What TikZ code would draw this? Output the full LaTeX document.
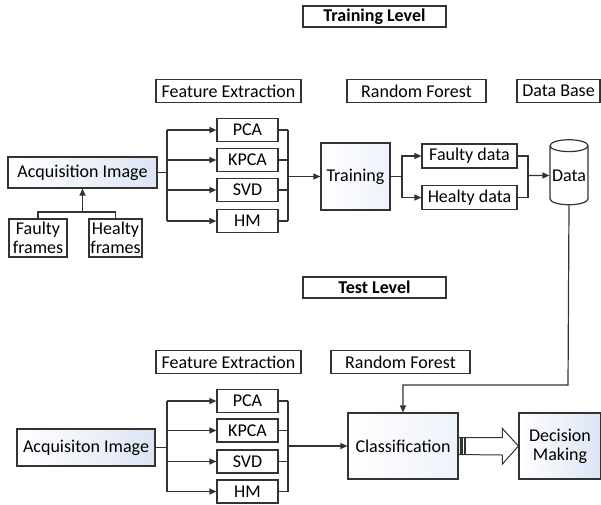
\documentclass[tikz,border=0pt]{standalone}
\usepackage{fontspec}
\setmainfont{Carlito}
\usepackage{tikz}
\usetikzlibrary{positioning}
\usetikzlibrary{arrows.meta}
\usetikzlibrary{calc}
\usetikzlibrary{shapes.geometric}
\definecolor{acqblue}{HTML}{DCE4F4}
\definecolor{paleblue}{HTML}{EEF2FA}
\definecolor{edge}{HTML}{333333}

\begin{document}
\begin{tikzpicture}[x=1pt, y=-1pt,
    every node/.style={font=\fontsize{18}{19}\selectfont, inner sep=0pt},
    box/.style={draw=edge, line width=1.2pt, align=center},
    titlebox/.style={box, minimum width=143, minimum height=21, font=\fontsize{18}{19}\selectfont\bfseries},
    headbox/.style={box, minimum height=23},
    featbox/.style={box, minimum width=61, minimum height=23},
    acqbox/.style={box, left color=white, right color=acqblue},
    procbox/.style={box, left color=white, right color=paleblue},
    link/.style={draw=edge, line width=1.2pt},
    arr/.style={link, -{Triangle[length=7pt,width=6pt]}}]
    \useasboundingbox (0,0) rectangle (601,504);

    \node[titlebox] (trlevel) at (374.5,16.5) {Training Level};
    \node[titlebox] (tslevel) at (374.5,287.5) {Test Level};

    % training level
    \node[headbox, minimum width=145] (fehead1) at (228.5,91) {Feature Extraction};
    \node[headbox, minimum width=139] (rfhead1) at (416.5,91) {Random Forest};
    \node[headbox, minimum width=83] (dbhead) at (558.5,91) {Data Base};

    \node[acqbox, minimum width=149, minimum height=31] (acq1) at (82.5,172.5) {Acquisition Image};
    \node[box, minimum width=58, minimum height=38] (faulty) at (38,238) {Faulty\\frames};
    \node[box, minimum width=53, minimum height=38] (healty) at (115.5,238) {Healty\\frames};

    \node[featbox] (pca1) at (247.5,130) {PCA};
    \node[featbox] (kpca1) at (247.5,160) {KPCA};
    \node[featbox] (svd1) at (247.5,190) {SVD};
    \node[featbox] (hm1) at (247.5,221) {HM};

    \node[procbox, minimum width=69, minimum height=67] (training) at (355.5,176.5) {Training};
    \node[box, minimum width=95, minimum height=24] (fdata) at (469.5,156) {Faulty data};
    \node[box, minimum width=95, minimum height=24] (hdata) at (469.5,197.5) {Healty data};
    \node[cylinder, shape border rotate=90, draw=edge, line width=1.2pt, aspect=0.35,
          minimum width=38, minimum height=65] (data) at (569,175.5) {Data};

    % test level
    \node[headbox, minimum width=145] (fehead2) at (228.5,362) {Feature Extraction};
    \node[headbox, minimum width=139] (rfhead2) at (400.5,362) {Random Forest};

    \node[acqbox, minimum width=138, minimum height=37] (acq2) at (86,447.5) {Acquisiton Image};

    \node[featbox] (pca2) at (247.5,401) {PCA};
    \node[featbox] (kpca2) at (247.5,430.5) {KPCA};
    \node[featbox] (svd2) at (247.5,461.5) {SVD};
    \node[featbox] (hm2) at (247.5,491.5) {HM};

    \node[procbox, minimum width=110, minimum height=66] (classif) at (403,446) {Classification};
    \node[acqbox, minimum width=82, minimum height=66] (decision) at (560,446) {Decision\\Making};

    % connectors, training level
    \coordinate (join) at (82.5,212);
    \draw[link] (faulty.north) |- (join) -| (healty.north);
    \draw[arr] (join) -- (acq1.south);

    \coordinate (fork1) at (167,172.5);
    \draw[link] (acq1.east) -- (fork1);
    \draw[link] (fork1 |- pca1) -- (fork1 |- hm1);
    \foreach \b in {pca1,kpca1,svd1,hm1}
        \draw[arr] (fork1 |- \b) -- (\b.west);

    \coordinate (merge1) at (288,176.5);
    \foreach \b in {pca1,kpca1,svd1,hm1}
        \draw[link] (\b.east) -- (\b.east -| merge1);
    \draw[link] (merge1 |- pca1) -- (merge1 |- hm1);
    \draw[arr] (merge1) -- (training.west);

    \coordinate (fork2) at (402,176.5);
    \draw[link] (training.east) -- (fork2);
    \draw[arr] (fork2) |- (fdata.west);
    \draw[arr] (fork2) |- (hdata.west);

    \coordinate (merge2) at (528,175.5);
    \draw[link] (fdata.east) -| (merge2);
    \draw[link] (hdata.east) -| (merge2);
    \draw[arr] (merge2) -- (data.west);

    \coordinate (bend) at (568,385);
    \draw[arr] (data.south) -- (bend) -| (classif.north);

    % connectors, test level
    \coordinate (fork3) at (167,447.5);
    \draw[link] (acq2.east) -- (fork3);
    \draw[link] (fork3 |- pca2) -- (fork3 |- hm2);
    \foreach \b in {pca2,kpca2,svd2,hm2}
        \draw[arr] (fork3 |- \b) -- (\b.west);

    \coordinate (merge3) at (288,446);
    \foreach \b in {pca2,kpca2,svd2,hm2}
        \draw[link] (\b.east) -- (\b.east -| merge3);
    \draw[link] (merge3 |- pca2) -- (merge3 |- hm2);
    \draw[arr] (merge3) -- (classif.west);

    % hollow block arrow
    \draw[edge, line width=1pt, fill=white]
        ($(classif.east)+(0,-8.5)$) -- ($(decision.west |- classif.east)+(-16,-8.5)$)
        -- ++(0,-9) -- (decision.west) -- ++(-16,18) -- ++(0,-9)
        -- ($(classif.east)+(0,8.5)$) -- cycle;
    \fill[edge] ($(classif.east)+(1.5,-8.5)$) rectangle ++(2.5,17);
    \fill[edge] ($(classif.east)+(5.5,-8.5)$) rectangle ++(1.5,17);
\end{tikzpicture}
\end{document}
